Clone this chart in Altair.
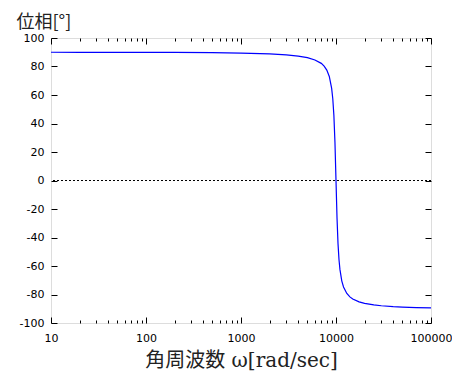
import altair as alt
import pandas as pd

# angular frequency [rad/sec] and phase [deg]
omega = [10, 20, 50, 100, 200, 500, 1000, 2000, 3000, 4000, 5000, 6000, 7000,
         7500, 8000, 8500, 9000, 9250, 9500, 9750, 10000, 10250, 10500, 10750,
         11000, 11500, 12000, 13000, 14000, 15000, 17500, 20000, 25000, 30000,
         40000, 50000, 70000, 100000]
phase = [90.0, 89.97, 89.9, 89.94, 89.89, 89.7, 89.4, 88.8, 88.1, 87.3, 86.2,
         84.6, 82.2, 80.3, 77.5, 73.0, 64.6, 57.4, 45.7, 26.9, 0.0, -26.3,
         -44.3, -55.4, -62.4, -70.4, -74.7, -79.3, -81.7, -83.2, -85.2, -86.2,
         -87.3, -87.9, -88.5, -88.8, -89.2, -89.4]

x_major = [10, 100, 1000, 10000, 100000]
x_minor = [20, 30, 40, 50, 60, 70, 80, 90,
           200, 300, 400, 500, 600, 700, 800, 900,
           2000, 3000, 4000, 5000, 6000, 7000, 8000, 9000,
           20000, 30000, 40000, 50000, 60000, 70000, 80000, 90000]
y_ticks = [-100, -80, -60, -40, -20, 0, 20, 40, 60, 80, 100]
zero_line = [0]

df = pd.DataFrame({"w": omega, "p": phase})

xs = alt.Scale(type="log", domain=[10, 100000], nice=False)
ys = alt.Scale(domain=[-100, 100], nice=False)

FONT = "DejaVu Sans"
CJK = "Noto Sans CJK JP"
MIXED = '"DejaVu Serif", "Noto Sans CJK JP"'

base_axis = dict(domain=False, grid=False, tickColor="black", tickWidth=1,
                 labelFont=FONT, labelFontSize=11, labelColor="black",
                 labelFlush=False, labelOverlap=False)

main = alt.Chart(df).mark_line(color="#0000ff", strokeWidth=1.2, clip=True).encode(
    x=alt.X("w:Q", scale=xs, axis=alt.Axis(
        orient="bottom", values=x_major, tickSize=6, offset=-6, labelPadding=9,
        labelExpr="'' + datum.value",
        title="角周波数 ω[rad/sec]", titleFont=MIXED, titleFontSize=20,
        titleFontWeight="normal", titleColor="#222", titlePadding=7, **base_axis)),
    y=alt.Y("p:Q", scale=ys, axis=alt.Axis(
        orient="left", values=y_ticks, tickSize=6, offset=-6, labelPadding=7,
        labelExpr="'' + datum.value",
        title="位相[°]", titleFont=CJK, titleFontSize=18, titleFontWeight="normal",
        titleColor="#222", titleAngle=0, titleAlign="left", titleBaseline="top",
        titleX=-41, titleY=-25, **base_axis)),
)

def ghost(xaxis, yaxis):
    enc = {"x": alt.X("w:Q", scale=xs, axis=xaxis)}
    enc["y"] = alt.Y("p:Q", scale=ys, axis=yaxis)
    return alt.Chart(df).mark_point(opacity=0).encode(**enc)

g1 = ghost(alt.Axis(orient="bottom", values=x_minor, tickSize=3, offset=-3,
                    labels=False, title=None, **base_axis),
           alt.Axis(orient="right", values=y_ticks, tickSize=6, offset=-6,
                    labels=False, title=None, **base_axis))
g2 = ghost(alt.Axis(orient="top", values=x_major, tickSize=6, offset=-6,
                    labels=False, title=None, **base_axis), None)
g3 = ghost(alt.Axis(orient="top", values=x_minor, tickSize=3, offset=-3,
                    labels=False, title=None, **base_axis), None)

zero = alt.Chart(pd.DataFrame({"z": zero_line})).mark_rule(
    color="black", strokeWidth=1, strokeDash=[2, 2]).encode(
    y=alt.Y("z:Q", scale=ys, axis=None))

chart = alt.layer(zero, main, g1, g2, g3).resolve_axis(
    x="independent", y="independent"
).properties(
    width=380, height=285, autosize="none",
    padding={"left": 43, "top": 30, "right": 21, "bottom": 48},
).configure_view(stroke="black", strokeWidth=1).configure(background="white")

chart.save("out.html", embed_options={"renderer": "svg", "actions": False})
